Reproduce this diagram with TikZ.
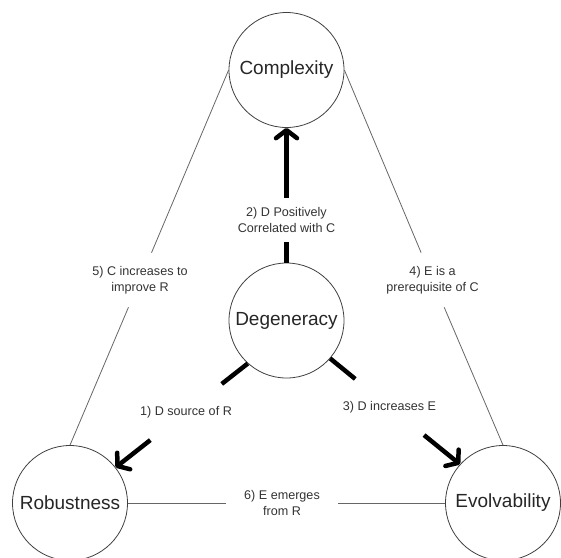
\documentclass[tikz,border=0pt]{standalone}
\usepackage{fontspec}
\setmainfont{Liberation Sans}
\usetikzlibrary{arrows.meta}
\begin{document}
\begin{tikzpicture}[x=1pt,y=-1pt,>={Straight Barb[length=8pt,width=21pt,round]}, line join=round,
    concept/.style={circle,draw=black!75,line width=0.8pt,minimum size=115pt,inner sep=0pt,text=black!85,font=\fontsize{19}{22}\selectfont},
    note/.style={align=center,text=black!80,font=\fontsize{12.6}{15.5}\selectfont},
    link/.style={draw=black!60,line width=0.8pt},
    heavy/.style={line width=4.5pt}]
    \useasboundingbox (0,0) rectangle (561,557);
    \foreach \name/\x/\y/\txt in {comp/286.5/70/Complexity,deg/286.5/320.5/Degeneracy,rob/70/503/Robustness,evo/503/503/Evolvability}
        \node[concept] (\name) at (\x,\y) {\txt};
    \node[note,inner xsep=4pt,inner ysep=9.5pt] (l2) at (286.5,220) {2) D Positively\\Correlated with C};
    \node[note,inner sep=22pt] (l1) at (186,412) {1) D source of R};
    \node[note,inner sep=22pt] (l3) at (389.5,407) {3) D increases E};
    \node[note,inner xsep=4pt,inner ysep=13.5pt] (l5) at (140,280) {5) C increases to\\improve R};
    \node[note,inner xsep=4pt,inner ysep=13.5pt] (l4) at (432.6,280) {4) E is a\\prerequisite of C};
    \node[note,inner xsep=18pt,inner ysep=2pt] (l6) at (282,503) {6) E emerges\\from R};
    % thick arrows out of Degeneracy
    \draw[heavy,->] (deg) -- (l2) -- (comp);
    \draw[heavy,->] (deg.228) -- (l1) -- (rob.38);
    \draw[heavy,->] (deg.319) -- (l3) -- (evo.138.7);
    \draw[link] (comp.west) -- (l5) -- (rob.north);
    \draw[link] (comp.east) -- (l4) -- (evo.north);
    \draw[link] (rob.east) -- (l6) -- (evo.west);
\end{tikzpicture}
\end{document}
